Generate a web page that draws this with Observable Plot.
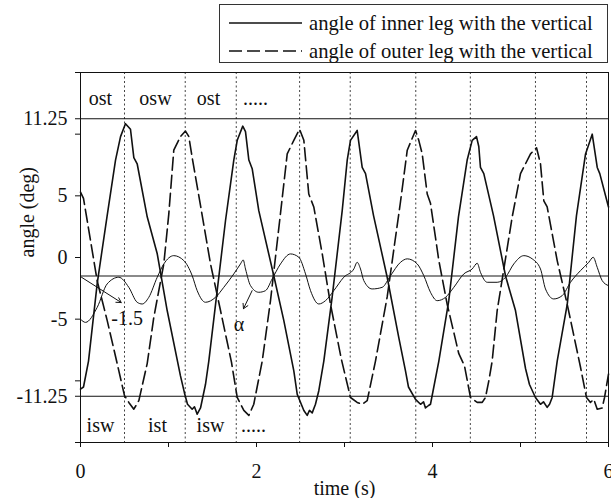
<!DOCTYPE html>
<html>
<head>
<meta charset="utf-8">
<script src="https://cdn.jsdelivr.net/npm/d3@7"></script>
<script src="https://cdn.jsdelivr.net/npm/@observablehq/plot@0.6"></script>
<style>
  html, body { margin: 0; padding: 0; background: #fff; }
  body { width: 611px; height: 498px; overflow: hidden; font-family: "Liberation Serif", "Tinos", "DejaVu Serif", serif; color: #111; }
  #top { position: relative; height: 66px; }
  #legend { position: absolute; left: 219px; top: 4px; width: 389px; height: 59px; box-sizing: border-box; border: 1px solid #333; }
  .row { position: absolute; left: 0; height: 22px; display: flex; align-items: center; font-size: 20.6px; white-space: nowrap; }
  .row svg { display: block; margin-left: 9px; margin-right: 7px; }
  #chart svg { display: block; }
</style>
</head>
<body>
<div id="top">
  <div id="legend"></div>
</div>
<div id="chart"></div>
<script>
// ---- data ----
const seriesNames = ["angle of inner leg with the vertical", "angle of outer leg with the vertical"];

const innerT = [0.000,0.034,0.091,0.190,0.303,0.398,0.455,0.511,0.568,0.606,0.644,0.758,0.872,0.985,1.136,1.182,1.216,1.269,1.295,1.326,1.364,1.420,1.458,1.648,1.742,1.781,1.844,1.875,1.913,1.951,2.026,2.197,2.310,2.424,2.463,2.538,2.576,2.602,2.633,2.670,2.708,2.765,2.860,2.974,3.031,3.068,3.144,3.201,3.239,3.330,3.485,3.617,3.693,3.727,3.807,3.864,3.898,3.920,3.955,3.977,4.015,4.072,4.185,4.295,4.394,4.451,4.500,4.526,4.545,4.583,4.693,4.830,4.943,5.057,5.102,5.170,5.227,5.261,5.303,5.330,5.360,5.417,5.531,5.636,5.739,5.815,5.872,5.901,6.000];
const innerV = [-10.67,-10.5,-8.4,-2.1,3.4,7.9,9.8,10.85,10.4,8.1,7.6,3.3,0.3,-4.3,-9.6,-11.0,-11.9,-12.3,-12.1,-12.7,-12.2,-10.3,-8.4,3.0,7.9,9.5,10.65,10.2,7.9,7.2,3.8,-1.5,-5.1,-9.2,-11.1,-12.4,-12.8,-12.4,-12.6,-11.9,-10.8,-8.4,-3.2,3.8,7.9,9.5,10.3,7.3,6.8,3.4,-1.6,-6.5,-9.2,-10.5,-11.5,-11.9,-11.7,-12.2,-12.0,-11.9,-10.5,-8.4,-3.5,3.3,7.9,9.5,9.8,9.0,7.3,6.8,3.4,-1.5,-4.3,-9.0,-10.3,-11.35,-11.9,-11.7,-12.15,-11.9,-11.35,-8.4,-3.8,3.4,8.4,10.0,7.3,6.8,4.1];

const outerT = [0.000,0.034,0.076,0.190,0.303,0.417,0.500,0.549,0.606,0.663,0.758,0.833,0.947,1.003,1.060,1.136,1.193,1.231,1.269,1.364,1.477,1.591,1.716,1.781,1.856,1.913,1.969,2.065,2.159,2.273,2.349,2.424,2.489,2.538,2.594,2.651,2.747,2.841,2.966,3.068,3.144,3.201,3.258,3.352,3.485,3.636,3.713,3.807,3.844,3.883,3.940,3.977,4.072,4.167,4.299,4.364,4.432,4.508,4.565,4.602,4.640,4.678,4.735,4.906,5.000,5.114,5.182,5.227,5.265,5.303,5.417,5.531,5.682,5.750,5.795,5.833,5.872,5.928,5.955,6.000];
const outerV = [5.3,4.8,3.0,-1.9,-5.1,-8.6,-11.2,-11.75,-12.3,-11.6,-8.6,-4.85,-0.5,3.5,8.7,9.8,10.25,9.8,8.1,4.2,-0.5,-4.3,-8.5,-11.35,-12.4,-12.8,-11.9,-8.4,-3.5,3.6,8.4,9.5,10.4,9.5,5.15,4.1,0.3,-3.8,-8.3,-11.35,-11.75,-11.9,-11.6,-8.4,-3.2,4.5,8.7,10.3,9.5,8.4,5.15,4.4,-0.25,-3.8,-7.8,-8.8,-11.35,-11.75,-11.75,-11.35,-10.0,-8.4,-4.3,3.3,6.8,8.4,8.9,7.6,4.6,4.1,-0.25,-3.8,-8.9,-11.35,-11.75,-11.5,-12.3,-12.2,-11.35,-9.45];

const alphaT = [0.000,0.057,0.190,0.303,0.435,0.549,0.644,0.701,0.776,0.872,0.947,1.060,1.174,1.269,1.326,1.420,1.534,1.628,1.742,1.818,1.849,1.875,1.932,2.026,2.102,2.178,2.273,2.386,2.481,2.557,2.614,2.708,2.784,2.878,2.992,3.106,3.144,3.182,3.219,3.314,3.428,3.523,3.636,3.713,3.826,3.901,3.977,4.053,4.148,4.242,4.356,4.451,4.508,4.545,4.622,4.735,4.830,4.924,5.038,5.133,5.227,5.284,5.378,5.474,5.568,5.682,5.776,5.826,5.872,5.928,6.000];
const alphaV = [-5.0,-5.26,-4.04,-2.14,-1.6,-2.42,-3.63,-3.77,-3.23,-1.6,-0.52,0.15,-0.25,-1.47,-2.69,-3.63,-3.23,-2.42,-1.33,-0.52,-0.2,-0.93,-2.28,-2.82,-2.69,-1.74,-0.52,0.29,0.02,-1.33,-2.69,-3.77,-3.5,-2.69,-1.6,-0.93,-0.39,-0.93,-1.87,-2.55,-2.42,-1.47,-0.39,-0.11,-0.52,-1.47,-2.82,-3.5,-3.23,-2.42,-1.33,-0.93,-0.47,-1.2,-2.01,-2.01,-1.6,-0.52,0.15,-0.11,-0.93,-2.55,-3.36,-3.09,-2.01,-1.06,-0.39,0.02,-0.8,-1.87,-2.28];

const phaseTimes = [0.5, 1.19, 1.77, 2.49, 3.065, 3.81, 4.43, 5.17, 5.75];
const topLabels = ["ost", "osw", "ost", "....."];
const topLabelT = [0.227, 0.852, 1.455, 1.99];
const topLabelV = 12.85;
const bottomLabels = ["isw", "ist", "isw", "....."];
const bottomLabelT = [0.227, 0.875, 1.477, 1.966];
const bottomLabelV = -13.6;

const limitLevels = [11.25, -11.25];
const refLevel = [-1.5];

const annText = ["-1.5", "α"];
const annT = [0.53, 1.80];
const annV = [-4.98, -5.4];
const arrowX1 = [0.011, 1.95], arrowY1 = [-1.6, -2.69];
const arrowX2 = [0.4625, 1.852], arrowY2 = [-3.65, -4.15];

const xTicks = [0, 1, 2, 3, 4, 5, 6];
const xTickLabels = [0, 2, 4, 6];
const yTicks = [-15, -11.25, -10, -5, 0, 5, 10, 11.25, 15];
const yTickLabels = [-11.25, -5, 0, 5, 11.25];
const xTitle = "time (s)";
const yTitle = "angle (deg)";

// ---- legend ----
const legend = document.getElementById("legend");
[["none", 7], ["13,5", 35]].forEach(([dash, top], i) => {
  const row = document.createElement("div");
  row.className = "row";
  row.style.top = top + "px";
  row.innerHTML = `<svg width="73" height="4"><line x1="0" y1="2" x2="73" y2="2" stroke="#111" stroke-width="1.6" ${dash === "none" ? "" : `stroke-dasharray="${dash}"`}/></svg><span>${seriesNames[i]}</span>`;
  legend.appendChild(row);
});

// ---- chart ----
const inner = innerT.map((t, i) => ({t, v: innerV[i]}));
const outer = outerT.map((t, i) => ({t, v: outerV[i]}));
const alpha = alphaT.map((t, i) => ({t, v: alphaV[i]}));
const topLab = topLabels.map((s, i) => ({s, t: topLabelT[i], v: topLabelV}));
const botLab = bottomLabels.map((s, i) => ({s, t: bottomLabelT[i], v: bottomLabelV}));
const ann = annText.map((s, i) => ({s, t: annT[i], v: annV[i]}));
const arrows = arrowX1.map((x1, i) => ({x1, y1: arrowY1[i], x2: arrowX2[i], y2: arrowY2[i]}));

const chart = Plot.plot({
  width: 611,
  height: 432,
  marginLeft: 80,
  marginRight: 3,
  marginTop: 6,
  marginBottom: 56,
  style: {fontFamily: "'Liberation Serif', Tinos, 'DejaVu Serif', serif", fontSize: "20px", color: "#111", background: "#fff"},
  x: {domain: [0, 6]},
  y: {domain: [-15, 15]},
  marks: [
    Plot.ruleX(phaseTimes, {stroke: "#444", strokeWidth: 1, strokeDasharray: "2,2.5"}),
    Plot.ruleY(refLevel, {stroke: "#8a8a8a", strokeWidth: 2}),
    Plot.ruleY(limitLevels, {stroke: "#111", strokeWidth: 1}),
    Plot.line(alpha, {x: "t", y: "v", stroke: "#111", strokeWidth: 1, curve: "monotone-x"}),
    Plot.line(inner, {x: "t", y: "v", stroke: "#111", strokeWidth: 1.6}),
    Plot.line(outer, {x: "t", y: "v", stroke: "#111", strokeWidth: 1.6, strokeDasharray: "13,5"}),
    Plot.text(topLab, {x: "t", y: "v", text: "s", fontSize: 20, fill: "#111"}),
    Plot.text(botLab, {x: "t", y: "v", text: "s", fontSize: 20, fill: "#111"}),
    Plot.text(ann, {x: "t", y: "v", text: "s", fontSize: 20, fill: "#111"}),
    Plot.arrow(arrows, {x1: "x1", y1: "y1", x2: "x2", y2: "y2", stroke: "#111", strokeWidth: 1, headLength: 8, bend: false}),
    Plot.frame({stroke: "#111", strokeWidth: 1}),
    Plot.axisX({ticks: xTicks, tickSize: 5, tickPadding: 16, label: null,
      tickFormat: d => xTickLabels.includes(d) ? String(d) : ""}),
    Plot.axisY({ticks: yTicks, tickSize: 5, tickPadding: 8, label: null,
      tickFormat: d => yTickLabels.includes(d) ? String(d) : ""}),
    Plot.text([yTitle], {frameAnchor: "left", dx: -53, rotate: -90, fontSize: 20, fill: "#111"}),
    Plot.text([xTitle], {frameAnchor: "bottom", dy: 46, lineAnchor: "middle", fontSize: 20, fill: "#111"})
  ]
});
document.getElementById("chart").appendChild(chart);
</script>
</body>
</html>
